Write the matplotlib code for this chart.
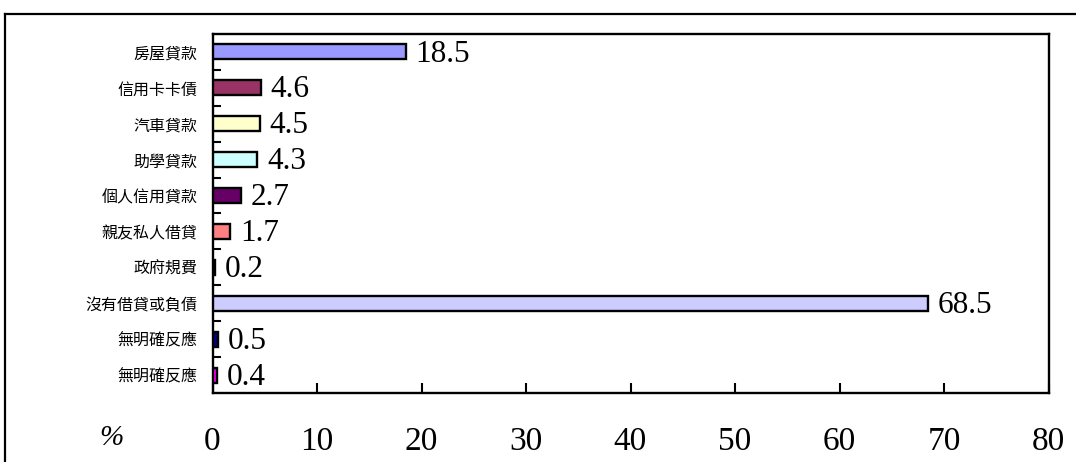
import matplotlib
matplotlib.use("Agg")
import matplotlib.pyplot as plt
from matplotlib.lines import Line2D

categories = ["房屋貸款", "信用卡卡債", "汽車貸款", "助學貸款", "個人信用貸款",
              "親友私人借貸", "政府規費", "沒有借貸或負債", "無明確反應", "無明確反應"]
values = [18.5, 4.6, 4.5, 4.3, 2.7, 1.7, 0.2, 68.5, 0.5, 0.4]
value_labels = ["18.5", "4.6", "4.5", "4.3", "2.7", "1.7", "0.2", "68.5", "0.5", "0.4"]
colors = ["#9999FF", "#993366", "#FFFFCC", "#CCFFFF", "#660066",
          "#FF8080", "#0066CC", "#CCCCFF", "#000080", "#FF00FF"]
x_ticks = [0, 10, 20, 30, 40, 50, 60, 70, 80]

W, H = 1076, 462
fig = plt.figure(figsize=(W / 100, H / 100), dpi=100)
fig.patch.set_facecolor("white")

# outer frame (left and top edges visible)
fig.add_artist(Line2D([5 / W, 5 / W], [0, 1 - 14 / H], transform=fig.transFigure,
                      color="black", lw=1.6))
fig.add_artist(Line2D([5 / W, 1.0], [1 - 14 / H, 1 - 14 / H], transform=fig.transFigure,
                      color="black", lw=1.6))

left, right, top, bottom = 212.5, 1048.5, 34, 393
ax = fig.add_axes([left / W, 1 - bottom / H, (right - left) / W, (bottom - top) / H])

y = list(range(len(categories)))
ax.barh(y, values, height=0.42, color=colors, edgecolor="black", linewidth=1.7, zorder=3)

for yi, v, lab in zip(y, values, value_labels):
    ax.annotate(lab, xy=(v, yi), xytext=(7, -1.5), textcoords="offset points",
                ha="left", va="center", fontsize=22.5, family="Liberation Serif",
                color="black")

ax.set_xlim(0, 80)
ax.set_ylim(len(categories) - 0.5, -0.5)
ax.set_xticks(x_ticks)
ax.set_xticklabels([str(t) for t in x_ticks], fontsize=24, family="Liberation Serif")
ax.tick_params(axis="x", direction="in", length=7.5, width=1.5, pad=24)

ax.set_yticks(y)
ax.set_yticklabels(categories, fontsize=11.5, family=["Noto Sans CJK TC", "DejaVu Sans"])
ax.set_yticks([i + 0.5 for i in range(len(categories) - 1)], minor=True)
ax.tick_params(axis="y", which="major", length=0, pad=11)
ax.tick_params(axis="y", which="minor", direction="in", length=6, width=1.5)

for s in ax.spines.values():
    s.set_linewidth(1.7)
    s.set_color("black")

fig.text(111 / W, 1 - 438 / H, "%", fontsize=21, family="Liberation Serif",
         style="italic", ha="center", va="center")

fig.savefig("out.png", dpi=100, facecolor="white")
